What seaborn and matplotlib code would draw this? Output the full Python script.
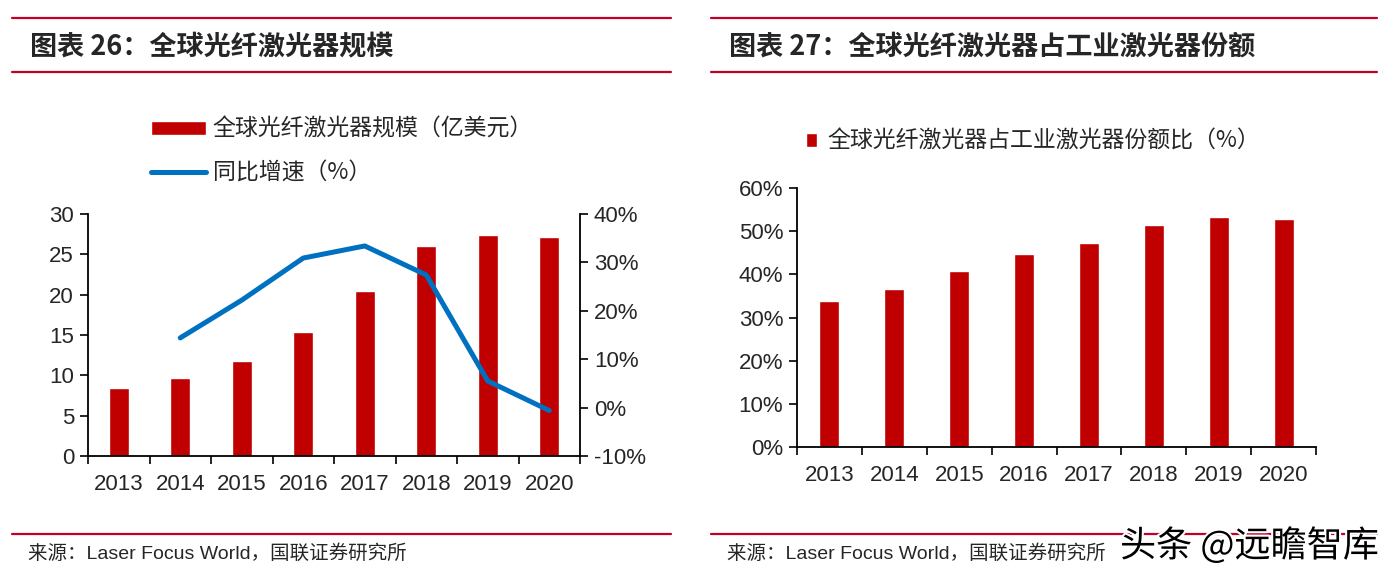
import numpy as np
import pandas as pd
import matplotlib
matplotlib.use("Agg")
import matplotlib.pyplot as plt
import seaborn as sns
from matplotlib.lines import Line2D
from matplotlib.ticker import FixedLocator, FuncFormatter
import matplotlib.patheffects as pe

# ---------------- data ----------------
years = [2013, 2014, 2015, 2016, 2017, 2018, 2019, 2020]
market_size = [8.4, 9.7, 11.8, 15.4, 20.4, 26.0, 27.4, 27.1]          # 亿美元
yoy_growth = [np.nan, 14.4, 22.2, 30.9, 33.4, 27.4, 5.5, -0.6]       # %
share_pct = [33.8, 36.6, 40.7, 44.7, 47.2, 51.4, 53.2, 52.8]         # %

left_title = "图表 26：全球光纤激光器规模"
right_title = "图表 27：全球光纤激光器占工业激光器份额"
bar_label_left = "全球光纤激光器规模（亿美元）"
line_label_left = "同比增速（%）"
bar_label_right = "全球光纤激光器占工业激光器份额比（%）"
source_text = "来源：Laser Focus World，国联证券研究所"
watermark = "头条 @远瞻智库"

left_yticks = [0, 5, 10, 15, 20, 25, 30]
right_yticks = [-10, 0, 10, 20, 30, 40]
share_yticks = [0, 10, 20, 30, 40, 50, 60]

# ---------------- style ----------------
sns.set_style("white")
plt.rcParams["font.family"] = ["Liberation Sans", "Noto Sans CJK SC", "DejaVu Sans"]
CJK = ["Noto Sans CJK SC", "DejaVu Sans"]
TICKF = "Liberation Sans"
tick_fs = 16

RED_LINE = "#C0002A"
BAR = "#C00000"
BLUE = "#0070C0"

W, H = 1391, 578
fig = plt.figure(figsize=(W / 100, H / 100), dpi=100)

def fx(px):
    return px / W

def fy(py):
    return 1 - py / H

# header / footer lines
for (x0, x1) in [(12, 671), (711, 1377)]:
    for yy in (18, 72, 534):
        fig.add_artist(Line2D([fx(x0), fx(x1)], [fy(yy), fy(yy)], color=RED_LINE, lw=1.6))

fig.text(fx(30), fy(47), left_title, family=CJK, weight="bold", fontsize=19.5,
         va="center", ha="left", style="italic")
fig.text(fx(729), fy(47), right_title, family=CJK, weight="bold", fontsize=19.5,
         va="center", ha="left", style="italic")
for xs in (28, 727):
    fig.text(fx(xs), fy(554), source_text, fontsize=14, va="center", ha="left",
             family=["Liberation Sans", "Noto Sans CJK SC"])
fig.text(fx(1120), fy(546), watermark, family=CJK, fontsize=26, va="center", ha="left",
         color="black", path_effects=[pe.withStroke(linewidth=3, foreground="white")])

df = pd.DataFrame({"year": years, "size": market_size, "growth": yoy_growth, "share": share_pct})

def style_axis(ax):
    ax.set_xlim(years[0] - 0.5, years[-1] + 0.5)
    ax.xaxis.set_major_locator(FixedLocator(years))
    ax.xaxis.set_minor_locator(FixedLocator([y - 0.5 for y in years] + [years[-1] + 0.5]))
    ax.xaxis.set_major_formatter(FuncFormatter(lambda v, p: f"{int(round(v))}"))
    ax.tick_params(axis="x", which="major", length=0, pad=13, labelsize=tick_fs, labelfontfamily=TICKF)
    ax.tick_params(axis="x", which="minor", length=6, width=1.2, direction="out", color="black", bottom=True)
    ax.tick_params(axis="y", length=6, width=1.2, direction="out", color="black", left=True,
                   labelsize=tick_fs, labelfontfamily=TICKF, pad=4)
    for s in ("top", "right"):
        ax.spines[s].set_visible(False)
    for s in ("left", "bottom"):
        ax.spines[s].set_color("black")
        ax.spines[s].set_linewidth(1.3)
    ax.set_xlabel("")
    ax.set_ylabel("")
    ax.grid(False)

# ---------------- left chart ----------------
axL = fig.add_axes([fx(88), fy(456), fx(580) - fx(88), fy(214) - fy(456)])
sns.barplot(data=df, x="year", y="size", native_scale=True, width=0.33, color=BAR,
            saturation=1, ax=axL, label=bar_label_left)
style_axis(axL)
axL.set_ylim(0, 30)
axL.set_yticks(left_yticks)

axR = axL.twinx()
sns.lineplot(data=df, x="year", y="growth", color=BLUE, lw=3.6, ax=axR, label=line_label_left,
             legend=False)
axR.set_ylim(-10, 40)
axR.set_yticks(right_yticks)
axR.yaxis.set_major_formatter(FuncFormatter(lambda v, p: f"{int(v)}%"))
axR.tick_params(axis="y", length=6, width=1.2, direction="out", color="black", right=True,
                labelsize=tick_fs, labelfontfamily=TICKF, pad=4)
for s in ("top", "left", "bottom"):
    axR.spines[s].set_visible(False)
axR.spines["right"].set_color("black")
axR.spines["right"].set_linewidth(1.3)
axR.set_xlabel("")
axR.set_ylabel("")
axR.grid(False)
axR.set_xlim(years[0] - 0.5, years[-1] + 0.5)

h1, l1 = axL.get_legend_handles_labels()
h2, l2 = axR.get_legend_handles_labels()
axL.legend(h1 + h2, l1 + l2, loc="upper left", bbox_to_anchor=(fx(151), fy(118)),
           bbox_transform=fig.transFigure, frameon=False, prop={"family": CJK, "size": 16.5},
           handlelength=2.4, handleheight=0.55, handletextpad=0.3, labelspacing=0.9,
           borderaxespad=0, borderpad=0)

# ---------------- right chart ----------------
ax2 = fig.add_axes([fx(797), fy(447), fx(1316) - fx(797), fy(188) - fy(447)])
sns.barplot(data=df, x="year", y="share", native_scale=True, width=0.31, color=BAR,
            saturation=1, ax=ax2, label=bar_label_right)
style_axis(ax2)
ax2.set_ylim(0, 60)
ax2.set_yticks(share_yticks)
ax2.yaxis.set_major_formatter(FuncFormatter(lambda v, p: f"{int(v)}%"))
ax2.legend(loc="upper left", bbox_to_anchor=(fx(806), fy(130)), bbox_transform=fig.transFigure,
           frameon=False, prop={"family": CJK, "size": 16.5}, handlelength=0.5, handleheight=0.6,
           handletextpad=0.45, borderaxespad=0, borderpad=0)

fig.savefig("out.png", dpi=100)
